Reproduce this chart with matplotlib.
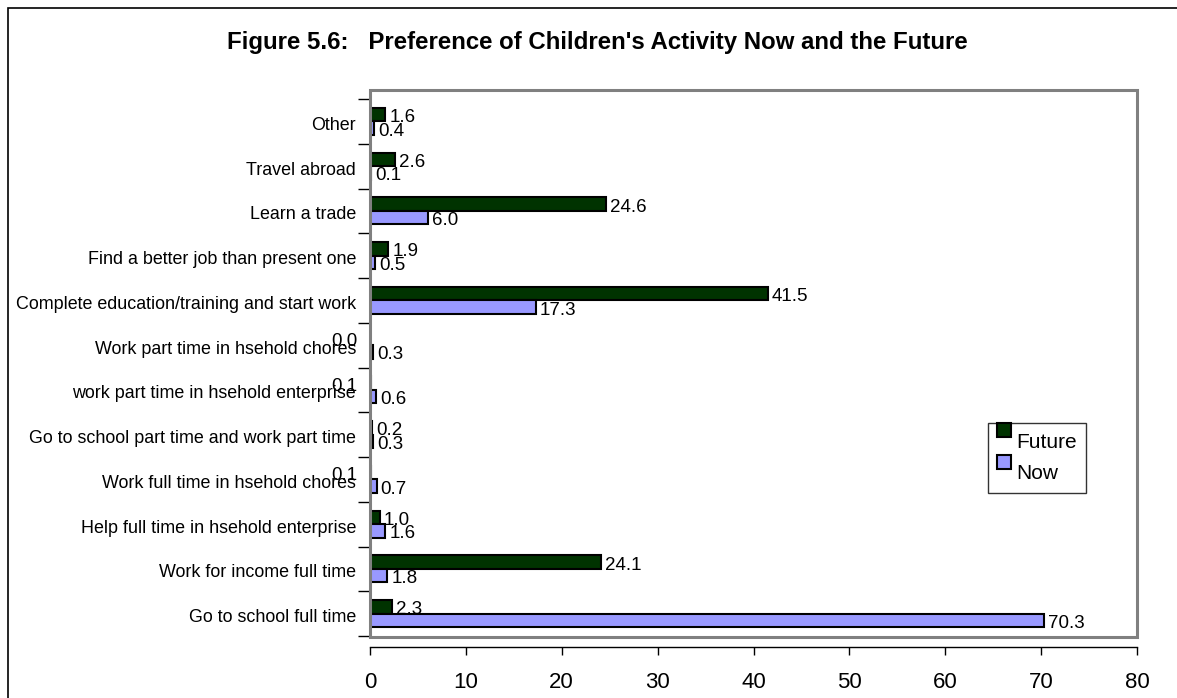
import matplotlib
matplotlib.use('Agg')
import matplotlib.pyplot as plt
import matplotlib.patches as mpatches
from matplotlib.legend_handler import HandlerPatch
from matplotlib.transforms import ScaledTranslation
import numpy as np

plt.rcParams['font.family'] = ['Liberation Sans', 'DejaVu Sans']

# activities, listed bottom to top
activities = ['Go to school full time',
              'Work for income full time',
              'Help full time in hsehold enterprise',
              'Work full time in hsehold chores',
              'Go to school part time and work part time',
              'work part time in hsehold enterprise',
              'Work part time in hsehold chores',
              'Complete education/training and start work',
              'Find a better job than present one',
              'Learn a trade',
              'Travel abroad',
              'Other']
future = [2.3, 24.1, 1.0, 0.1, 0.2, 0.1, 0.0, 41.5, 1.9, 24.6, 2.6, 1.6]
now = [70.3, 1.8, 1.6, 0.7, 0.3, 0.6, 0.3, 17.3, 0.5, 6.0, 0.1, 0.4]
xticks = [0, 10, 20, 30, 40, 50, 60, 70, 80]

future_col = '#003300'
now_col = '#9999ff'
frame_gray = '#808080'

W, H = 1177, 698
fig = plt.figure(figsize=(W / 100, H / 100), dpi=100, facecolor='white')
ax = fig.add_axes([370 / W, 1 - 636 / H, (1137 - 370) / W, (636 - 99) / H])

y = np.arange(len(activities))
bh = 0.3
ax.barh(y + bh / 2, future, height=bh, color=future_col, edgecolor='black', linewidth=1.5)
ax.barh(y - bh / 2, now, height=bh, color=now_col, edgecolor='black', linewidth=1.5)

# value labels just past the bar ends, tiny future values sit left of the axis
lab_kw = dict(textcoords='offset pixels', va='center', fontsize=13.5)
for yi, v in zip(y, future):
    if v <= 0.1:
        ax.annotate(f'{v:.1f}', xy=(0, yi + bh / 2), xytext=(-13, -3), ha='right', **lab_kw)
    else:
        ax.annotate(f'{v:.1f}', xy=(v, yi + bh / 2), xytext=(4, -3), ha='left', **lab_kw)
for yi, v in zip(y, now):
    ax.annotate(f'{v:.1f}', xy=(v, yi - bh / 2), xytext=(4, -3), ha='left', **lab_kw)

ax.set_xlim(0, 80)
ax.set_ylim(-0.5, len(activities) - 0.5)

# gray plot-area border (a little taller than the category axis)
fig.patches.append(mpatches.Rectangle((370 / W, 1 - 637 / H), 767 / W, (637 - 90) / H,
                                      transform=fig.transFigure, fill=False,
                                      edgecolor=frame_gray, linewidth=2.2, zorder=0))
ax.spines['top'].set_visible(False)
ax.spines['right'].set_visible(False)
ax.spines['left'].set_color('black')
ax.spines['left'].set_linewidth(1)
ax.spines['bottom'].set_position(('outward', 8))
ax.spines['bottom'].set_linewidth(1)
ax.patch.set_alpha(0)

ax.set_xticks(xticks)
ax.tick_params(axis='x', direction='out', length=6, width=1, labelsize=16, pad=12)
ax.set_yticks(y)
ax.set_yticklabels(activities, fontsize=12.9)
ax.set_yticks(np.arange(-0.5, len(activities)), minor=True)
ax.tick_params(axis='y', which='major', length=0, pad=10)
ax.tick_params(axis='y', which='minor', direction='out', length=9, width=1)
shift = ScaledTranslation(0, -2 / 100, fig.dpi_scale_trans)
for t in ax.get_yticklabels():
    t.set_transform(t.get_transform() + shift)

fig.text(597 / W, 1 - 43 / H,
         "Figure 5.6:   Preference of Children's Activity Now and the Future",
         ha='center', va='center', fontsize=17.3, fontweight='bold')


# legend keys sit high, level with the top of their text
def raised_square(legend, orig_handle, xdescent, ydescent, width, height, fontsize):
    return mpatches.Rectangle((-xdescent, 7.5), 10, 10)


handles = [mpatches.Rectangle((0, 0), 1, 1, facecolor=c, edgecolor='black', linewidth=1.5)
           for c in (future_col, now_col)]
leg = fig.legend(handles, ['Future', 'Now'], loc='upper left',
                 bbox_to_anchor=(988 / W, 1 - 423 / H),
                 fontsize=15, frameon=True, fancybox=False, handlelength=0.75,
                 handleheight=0.8, handletextpad=0.15, borderpad=0.45,
                 labelspacing=0.6, borderaxespad=0,
                 handler_map={mpatches.Rectangle: HandlerPatch(patch_func=raised_square)})
leg.get_frame().set_edgecolor('black')
leg.get_frame().set_linewidth(1)

# outer chart border
fig.patches.append(mpatches.Rectangle((8 / W, -0.1), 1.2, 1 - 8 / H + 0.1,
                                      transform=fig.transFigure, fill=False,
                                      edgecolor='black', linewidth=1.2))

fig.savefig('out.png', dpi=100, facecolor='white')
